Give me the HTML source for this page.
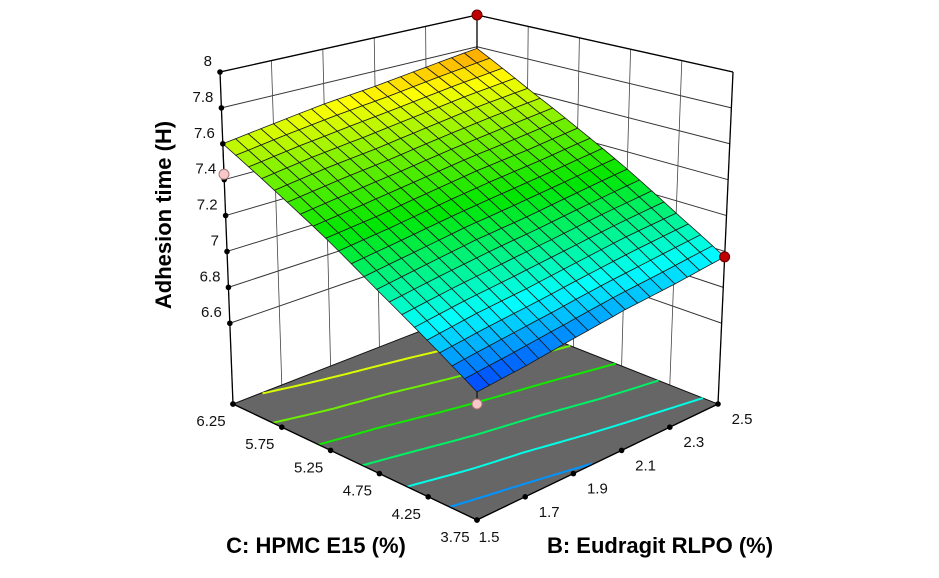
<!DOCTYPE html>
<html><head><meta charset="utf-8"><style>
html,body{margin:0;padding:0;background:#fff;}
svg{display:block;font-family:"Liberation Sans",sans-serif;}
</style></head><body>
<svg id="chart" width="939" height="578" viewBox="0 0 939 578" xmlns="http://www.w3.org/2000/svg">
<g id="walls"></g>
<g id="floor"></g>
<g id="surface"></g>
<g id="axes"></g>
<g id="points"></g>
<text x="0" y="0" transform="translate(171,215) rotate(-90)" text-anchor="middle" font-size="22" font-weight="bold" fill="#000">Adhesion time (H)</text>
<text x="316" y="553" text-anchor="middle" font-size="22" font-weight="bold" fill="#000">C: HPMC E15 (%)</text>
<text x="660" y="553" text-anchor="middle" font-size="22" font-weight="bold" fill="#000">B: Eudragit RLPO (%)</text>
</svg>
<script>
const cTicks = [3.75, 4.25, 4.75, 5.25, 5.75, 6.25];
const bTicks = [1.5, 1.7, 1.9, 2.1, 2.3, 2.5];
const zTicks = [6.6, 6.8, 7, 7.2, 7.4, 7.6, 7.8, 8];
// response at (C row, B column)
const response = [
  [6.79, 6.82, 6.86, 6.90, 6.93, 6.97],
  [6.95, 6.99, 7.02, 7.06, 7.10, 7.13],
  [7.11, 7.15, 7.19, 7.22, 7.26, 7.30],
  [7.28, 7.31, 7.35, 7.39, 7.42, 7.46],
  [7.44, 7.48, 7.51, 7.55, 7.59, 7.62],
  [7.60, 7.64, 7.68, 7.71, 7.75, 7.79]
];
const contourLevels = [7.62, 7.47, 7.32, 7.17, 7.02, 6.88];
const pointC = [6.25, 3.75, 6.25, 3.75];
const pointB = [1.5, 1.5, 2.5, 2.5];
const pointZ = [7.43, 6.73, 8.0, 6.97];
const pointAbove = [false, false, true, true];

const Z0 = 6.15, Z1 = 8.0, CMIN = 3.75, CMAX = 6.25, BMIN = 1.5, BMAX = 2.5;
const K = {
  '000':[477,520],'001':[477,150],
  '100':[233,404],'101':[220,72],
  '010':[718,404],'011':[733,72],
  '110':[477,309],'111':[477,15]
};
function proj(c,b,z){
  const u=(c-CMIN)/(CMAX-CMIN), v=(b-BMIN)/(BMAX-BMIN), w=(z-Z0)/(Z1-Z0);
  let x=0,y=0;
  for(const a of [0,1])for(const bb of [0,1])for(const cc of [0,1]){
    const f=(a?u:1-u)*(bb?v:1-v)*(cc?w:1-w);
    const p=K[''+a+bb+cc]; x+=f*p[0]; y+=f*p[1];
  }
  return [x,y];
}
function zAt(c,b){
  const fi=(c-CMIN)/0.5, fj=(b-BMIN)/0.2;
  const i=Math.min(4,Math.floor(fi)), j=Math.min(4,Math.floor(fj));
  const s=fi-i,t=fj-j;
  return response[i][j]*(1-s)*(1-t)+response[i+1][j]*s*(1-t)+response[i][j+1]*(1-s)*t+response[i+1][j+1]*s*t;
}
const stops=[[0,[0,60,255]],[0.2,[0,255,255]],[0.5,[0,230,0]],[0.7,[120,240,0]],[0.88,[255,255,0]],[1,[255,155,0]]];
function color(z){
  let t=(z-6.79)/(7.79-6.79); t=Math.max(0,Math.min(1,t));
  for(let k=1;k<stops.length;k++){ if(t<=stops[k][0]){
    const a=stops[k-1],b=stops[k],f=(t-a[0])/(b[0]-a[0]);
    const r=a[1].map((x,i)=>Math.round(x+(b[1][i]-x)*f)); return `rgb(${r})`; } }
  return 'rgb(255,155,0)';
}
const NS='http://www.w3.org/2000/svg';
function mk(tag,attrs,parent){const e=document.createElementNS(NS,tag);for(const k in attrs)e.setAttribute(k,attrs[k]);parent.appendChild(e);return e;}
const pts=a=>a.map(p=>p[0].toFixed(1)+','+p[1].toFixed(1)).join(' ');
const walls=document.getElementById('walls'),floor=document.getElementById('floor'),surf=document.getElementById('surface'),axes=document.getElementById('axes'),ptsG=document.getElementById('points');

function line(p,q,parent,stroke,w,name){const l=mk('line',{x1:p[0],y1:p[1],x2:q[0],y2:q[1],stroke:stroke,'stroke-width':w},parent);return l;}
zTicks.forEach(z=>{
  line(proj(CMAX,BMIN,z),proj(CMAX,BMAX,z),walls,'#333',1,'left-wall-gridline');
  line(proj(CMAX,BMAX,z),proj(CMIN,BMAX,z),walls,'#333',1,'right-wall-gridline');
});
bTicks.forEach(b=>line(proj(CMAX,b,Z0),proj(CMAX,b,Z1),walls,'#444',0.8,'left-wall-vertical'));
cTicks.forEach(c=>line(proj(c,BMAX,Z0),proj(c,BMAX,Z1),walls,'#444',0.8,'right-wall-vertical'));
line(proj(CMAX,BMIN,Z1),proj(CMAX,BMAX,Z1),walls,'#000',1.3,'top-edge-left');
line(proj(CMAX,BMAX,Z1),proj(CMIN,BMAX,Z1),walls,'#000',1.3,'top-edge-right');
line(proj(CMAX,BMAX,Z0),proj(CMAX,BMAX,Z1),walls,'#000',1.3,'back-vertical-edge');

const fl=mk('polygon',{points:pts([proj(CMIN,BMIN,Z0),proj(CMAX,BMIN,Z0),proj(CMAX,BMAX,Z0),proj(CMIN,BMAX,Z0)]),fill:'#666',stroke:'#111','stroke-width':1},floor);


contourLevels.forEach(k=>{
  const seg=[];
  const N=60;
  for(let s=0;s<=N;s++){
    const b=BMIN+(BMAX-BMIN)*s/N;
    let prev=null;
    for(let i=0;i<=200;i++){const c=CMIN+(CMAX-CMIN)*i/200;const d=zAt(c,b)-k;
      if(prev!==null&&prev.d*d<=0){const cc=prev.c+(c-prev.c)*prev.d/(prev.d-d);seg.push(proj(cc,b,Z0));break;}
      prev={c,d};}
  }
  if(seg.length>1){const pl=mk('polyline',{points:pts(seg),fill:'none',stroke:color(k),'stroke-width':2},floor);
    
    }
});

const M=20;
for(let i=M-1;i>=0;i--)for(let j=M-1;j>=0;j--){
  const c0=CMIN+(CMAX-CMIN)*i/M,c1=CMIN+(CMAX-CMIN)*(i+1)/M,b0=BMIN+(BMAX-BMIN)*j/M,b1=BMIN+(BMAX-BMIN)*(j+1)/M;
  const q=[proj(c0,b0,zAt(c0,b0)),proj(c1,b0,zAt(c1,b0)),proj(c1,b1,zAt(c1,b1)),proj(c0,b1,zAt(c0,b1))];
  const p=mk('polygon',{points:pts(q),fill:color(zAt((c0+c1)/2,(b0+b1)/2)),stroke:'#1a1a1a','stroke-width':0.8},surf);
  
  
}

line(proj(CMAX,BMIN,Z0),proj(CMAX,BMIN,Z1),axes,'#000',1.3,'z-axis-line');
line(proj(CMIN,BMAX,Z0),proj(CMIN,BMAX,Z1),axes,'#000',1.3,'right-vertical-edge');
line(proj(CMIN,BMIN,Z0),proj(CMAX,BMIN,Z0),axes,'#000',1.3,'c-axis-line');
line(proj(CMIN,BMIN,Z0),proj(CMIN,BMAX,Z0),axes,'#000',1.3,'b-axis-line');
function dot(p,parent){const d=mk('circle',{cx:p[0],cy:p[1],r:2.8,fill:'#000'},parent);}
function label(x,y,txt,anchor,name){const t=mk('text',{x:x,y:y,'text-anchor':anchor,'font-size':15,fill:'#111'},axes);t.textContent=txt;}
zTicks.forEach(z=>{const p=proj(CMAX,BMIN,z);dot(p,axes);label(p[0]-8,p[1]-6,String(z),'end','z-tick-label');});
dot(proj(CMAX,BMIN,Z0),axes);
cTicks.forEach(c=>{const p=proj(c,BMIN,Z0);dot(p,axes);label(p[0]-22,p[1]+22,c.toFixed(2),'middle','c-tick-label');});
bTicks.forEach(b=>{const p=proj(CMIN,b,Z0);dot(p,axes);label(p[0]+ (b===BMIN?12:24),p[1]+(b===BMIN?22:20),String(b),'middle','b-tick-label');});

pointC.forEach((c,i)=>{
  const p=proj(c,pointB[i],pointZ[i]);
  const s=proj(c,pointB[i],zAt(c,pointB[i]));
  line(s,p,ptsG,'#000',1,'point-stem');
  const d=mk('circle',{cx:p[0],cy:p[1],r:5,fill:pointAbove[i]?'#c00000':'#f8c8c8',stroke:pointAbove[i]?'#600':'#a77','stroke-width':1},ptsG);
  
  
});
</script>
</body></html>
